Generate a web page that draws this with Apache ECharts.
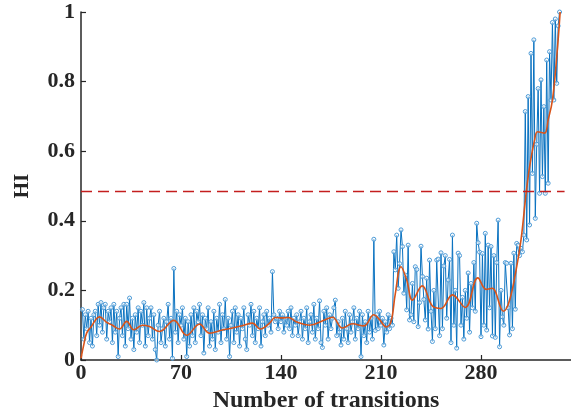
<!DOCTYPE html>
<html>
<head>
<meta charset="utf-8">
<script src="https://cdn.jsdelivr.net/npm/echarts@6/dist/echarts.min.js"></script>
<style>
html,body{margin:0;padding:0;background:#fff;}
#chart{width:571px;height:418px;}
</style>
</head>
<body>
<div id="chart"></div>
<script>
// Transition index of the first HI value
const firstTransition = 1;
// Health indicator (HI) per transition, blue series
const hiValues = [
  0.145, 0.06, 0.13, 0.09, 0.14, 0.05, 0.12, 0.04, 0.13, 0.14,
  0.07, 0.16, 0.10, 0.165, 0.08, 0.15, 0.16, 0.06, 0.14, 0.11,
  0.15, 0.05, 0.16, 0.08, 0.14, 0.01, 0.12, 0.15, 0.07, 0.16,
  0.04, 0.16, 0.09, 0.178, 0.06, 0.12, 0.03, 0.13, 0.08, 0.15,
  0.05, 0.14, 0.10, 0.165, 0.04, 0.15, 0.07, 0.12, 0.15, 0.06,
  0.13, 0.03, 0.0, 0.10, 0.14, 0.05, 0.09, 0.12, 0.04, 0.11,
  0.16, 0.06, 0.12, 0.005, 0.263, 0.08, 0.14, 0.05, 0.13, 0.10,
  0.15, 0.06, 0.12, 0.01, 0.11, 0.04, 0.13, 0.07, 0.15, 0.05,
  0.14, 0.11, 0.16, 0.07, 0.13, 0.02, 0.12, 0.09, 0.15, 0.04,
  0.11, 0.06, 0.14, 0.03, 0.12, 0.08, 0.16, 0.05, 0.13, 0.09,
  0.174, 0.06, 0.12, 0.01, 0.10, 0.14, 0.05, 0.15, 0.08, 0.13,
  0.04, 0.12, 0.09, 0.15, 0.06, 0.03, 0.13, 0.10, 0.16, 0.07,
  0.14, 0.05, 0.12, 0.09, 0.15, 0.04, 0.11, 0.13, 0.07, 0.14,
  0.10, 0.12, 0.08, 0.254, 0.13, 0.11, 0.12, 0.09, 0.14, 0.11,
  0.13, 0.08, 0.12, 0.10, 0.14, 0.09, 0.15, 0.07, 0.12, 0.10,
  0.13, 0.07, 0.11, 0.14, 0.06, 0.12, 0.09, 0.15, 0.05, 0.11,
  0.13, 0.08, 0.16, 0.06, 0.12, 0.09, 0.17, 0.05, 0.036, 0.14,
  0.10, 0.15, 0.06, 0.13, 0.09, 0.12, 0.15, 0.172, 0.07, 0.11,
  0.08, 0.043, 0.12, 0.06, 0.14, 0.09, 0.05, 0.13, 0.08, 0.11,
  0.15, 0.06, 0.12, 0.09, 0.14, 0.01, 0.13, 0.07, 0.11, 0.05,
  0.14, 0.08, 0.12, 0.06, 0.347, 0.085, 0.13, 0.09, 0.14, 0.10,
  0.12, 0.043, 0.11, 0.08, 0.13, 0.09, 0.12, 0.10, 0.311, 0.259,
  0.359, 0.206, 0.277, 0.374, 0.326, 0.192, 0.244, 0.144, 0.33, 0.115,
  0.13, 0.22, 0.11, 0.268, 0.26, 0.096, 0.165, 0.327, 0.24, 0.174,
  0.115, 0.235, 0.089, 0.287, 0.14, 0.053, 0.20, 0.09, 0.287, 0.29,
  0.07, 0.308, 0.09, 0.27, 0.30, 0.12, 0.23, 0.289, 0.05, 0.359,
  0.10, 0.20, 0.034, 0.307, 0.30, 0.10, 0.18, 0.06, 0.20, 0.12,
  0.25, 0.08, 0.22, 0.15, 0.28, 0.14, 0.393, 0.337, 0.31, 0.067,
  0.306, 0.10, 0.364, 0.086, 0.33, 0.15, 0.326, 0.069, 0.30, 0.065,
  0.28, 0.402, 0.038, 0.20, 0.124, 0.10, 0.28, 0.278, 0.15, 0.072,
  0.278, 0.09, 0.307, 0.146, 0.335, 0.33, 0.30, 0.321, 0.311, 0.359,
  0.714, 0.345, 0.757, 0.388, 0.881, 0.536, 0.92, 0.407, 0.62, 0.78,
  0.479, 0.805, 0.527, 0.728, 0.479, 0.862, 0.508, 0.886, 0.747, 0.97,
  0.747, 0.98, 0.795, 0.96, 1.0
];
// Smoothed HI trend (orange), read at these transitions
const smoothX = [0, 2, 4, 7, 13, 18, 22, 27, 32, 37, 43, 48, 55, 65, 74, 83, 90, 99, 106, 114,
  120, 125.6, 132, 136, 141, 145, 151, 160, 170, 176, 183, 190, 198, 205, 209, 213.6, 217, 220, 224, 228,
  232, 238.8, 246, 252, 260, 269, 277.8, 283.6, 287.8, 295.7, 300, 304.6, 308, 311.6, 314, 317.5, 319.6, 324.5, 327, 330,
  333, 335.4];
const smoothY = [0.005, 0.045, 0.078, 0.095, 0.124, 0.108, 0.1, 0.089, 0.111, 0.087, 0.1, 0.096, 0.082, 0.114, 0.071, 0.103, 0.077, 0.086, 0.092, 0.1,
  0.106, 0.089, 0.106, 0.122, 0.121, 0.122, 0.109, 0.1, 0.114, 0.123, 0.092, 0.104, 0.098, 0.13, 0.116, 0.095, 0.11, 0.19, 0.268, 0.23,
  0.172, 0.213, 0.155, 0.148, 0.187, 0.151, 0.236, 0.203, 0.206, 0.14, 0.172, 0.259, 0.345, 0.48, 0.555, 0.632, 0.656, 0.652, 0.69, 0.747,
  0.87, 1.0];
// Failure threshold (red dashed)
const thresholdX = [0, 338.5];
const thresholdValue = 0.484;
// Axis settings
const xMax = 343;
const xInterval = 70;
const yInterval = 0.2;

const blueData = hiValues.map((v, i) => [i + firstTransition, v]);
const smoothData = smoothX.map((x, i) => [x, smoothY[i]]);
const thresholdData = thresholdX.map(x => [x, thresholdValue]);

const font = 'Liberation Serif';
const axisColor = '#262626';

const chart = echarts.init(document.getElementById('chart'), null, {renderer: 'canvas'});
chart.setOption({
  animation: false,
  grid: {left: 81, right: 0, top: 12, bottom: 58, containLabel: false},
  xAxis: {
    type: 'value', min: 0, max: xMax, interval: xInterval,
    name: 'Number of transitions', nameLocation: 'middle', nameGap: 27,
    nameTextStyle: {fontFamily: font, fontWeight: 'bold', fontSize: 24, color: axisColor},
    axisLine: {show: true, onZero: false, lineStyle: {color: axisColor, width: 1.5}},
    axisTick: {show: true, inside: true, length: 5, lineStyle: {color: axisColor, width: 1.2}},
    axisLabel: {fontFamily: font, fontWeight: 'bold', fontSize: 22, color: axisColor, margin: 2, showMaxLabel: false},
    splitLine: {show: false}
  },
  yAxis: {
    type: 'value', min: 0, max: 1, interval: yInterval,
    name: 'HI', nameLocation: 'middle', nameGap: 48, nameRotate: 90,
    nameTextStyle: {fontFamily: font, fontWeight: 'bold', fontSize: 21, color: axisColor},
    axisLine: {show: true, lineStyle: {color: axisColor, width: 1.5}},
    axisTick: {show: true, inside: true, length: 5, lineStyle: {color: axisColor, width: 1.2}},
    axisLabel: {fontFamily: font, fontWeight: 'bold', fontSize: 22, color: axisColor, margin: 6},
    splitLine: {show: false}
  },
  series: [
    {
      type: 'line', data: blueData, symbol: 'circle', symbolSize: 4, showSymbol: true,
      lineStyle: {color: '#0a72c0', width: 1},
      itemStyle: {color: 'rgba(255,255,255,0.5)', borderColor: '#4c9ad6', borderWidth: 1},
      z: 2
    },
    {
      type: 'line', data: smoothData, smooth: 0.4, symbol: 'none',
      lineStyle: {color: '#D95319', width: 1.6}, z: 3
    },
    {
      type: 'line', data: thresholdData, symbol: 'none',
      lineStyle: {color: '#c41e1e', width: 1.6, type: [11, 6]}, z: 4
    }
  ]
});
</script>
</body>
</html>
